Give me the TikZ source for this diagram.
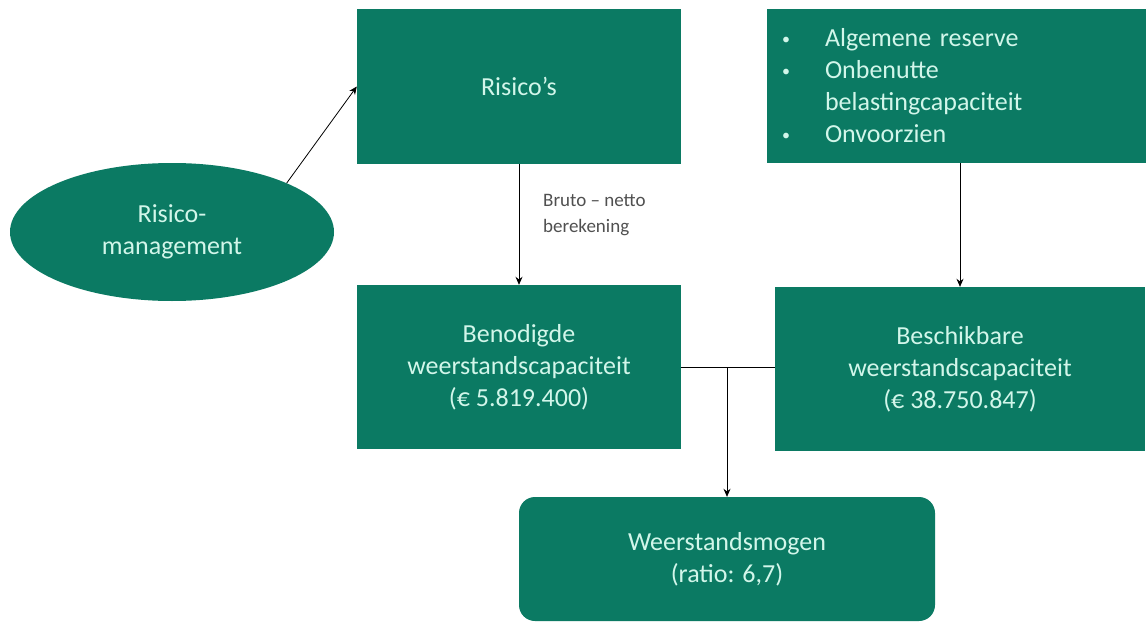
\documentclass[tikz,border=0pt]{standalone}
\usepackage{fontspec}
\setmainfont{Carlito}
\usetikzlibrary{shapes.geometric,arrows.meta}
\definecolor{boxgreen}{HTML}{0B7A63}
\definecolor{boxtext}{HTML}{D2F6EA}
\definecolor{labelgray}{HTML}{505050}
\begin{document}
\begin{tikzpicture}[x=1pt,y=-1pt,
  box/.style={draw=none,fill=boxgreen,text=boxtext,inner sep=0pt,align=center,
    font=\fontsize{26}{32}\selectfont},
  conn/.style={draw=black,line width=0.8pt},
  arr/.style={conn,-{Stealth[length=8pt,width=7pt]}}]
\useasboundingbox (0,0) rectangle (1148,623);
\fill[white] (0,0) rectangle (1148,623);

\node[box,ellipse,minimum width=324pt,minimum height=138pt] (rm) at (172,232) {Risico-\\management};
\node[box,rectangle,minimum width=324pt,minimum height=155pt] (risk) at (519,86.5) {Risico’s};
\node[box,rectangle,minimum width=379pt,minimum height=154pt,text width=349pt,inner xsep=15pt,align=left] (bul) at (956.5,86)
  {\makebox[43pt][l]{\fontsize{16}{16}\selectfont\raisebox{2pt}{•}}Algemene reserve\\
   \makebox[43pt][l]{\fontsize{16}{16}\selectfont\raisebox{2pt}{•}}Onbenutte\\
   \makebox[43pt][l]{}belastingcapaciteit\\
   \makebox[43pt][l]{\fontsize{16}{16}\selectfont\raisebox{2pt}{•}}Onvoorzien};
\node[box,rectangle,minimum width=324pt,minimum height=164pt] (ben) at (519,367) {Benodigde\\weerstandscapaciteit\\(€ 5.819.400)};
\node[box,rectangle,minimum width=370pt,minimum height=164pt] (besch) at (960,369) {Beschikbare\\weerstandscapaciteit\\(€ 38.750.847)};
\node[box,rectangle,rounded corners=16pt,minimum width=416pt,minimum height=124pt] (wm) at (727,559) {Weerstandsmogen\\(ratio: 6,7)};

\node[anchor=west,align=left,text=labelgray,inner sep=0pt,font=\fontsize{19}{26}\selectfont] (lbl) at (543,215) {Bruto – netto\\berekening};

\draw[arr] (rm.north east) -- (risk.west);
\draw[arr] (risk.south) -- (ben.north);
\draw[arr] (besch.north |- bul.south) -- (besch.north);
\draw[conn] (ben.east) -- (ben.east -| besch.west);
\draw[arr] (ben.east -| wm.north) -- (wm.north);
\end{tikzpicture}
\end{document}
